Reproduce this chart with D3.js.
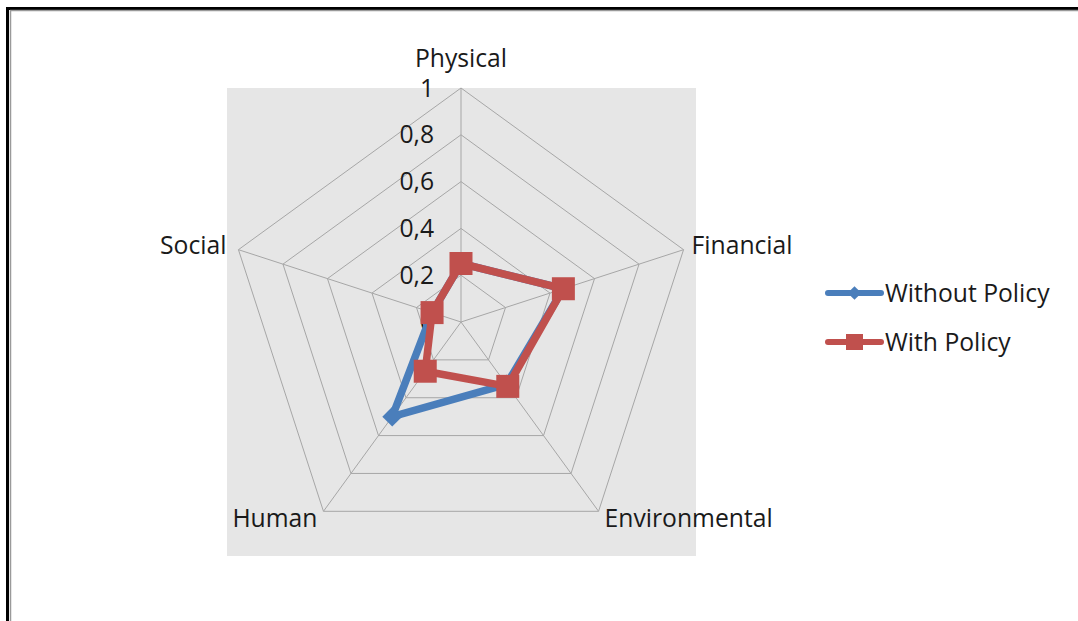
<!DOCTYPE html>
<html>
<head>
<meta charset="utf-8">
<script src="https://cdn.jsdelivr.net/npm/d3@7"></script>
<style>
  html, body { margin: 0; padding: 0; background: #fff; }
  svg { display: block; }
  text { font-family: "Open Sans", "DejaVu Sans", sans-serif; fill: #1a1a1a; }
</style>
</head>
<body>
<svg id="chart" width="1078" height="621"></svg>
<script>
// ---- data ----
const categories = ["Physical", "Financial", "Environmental", "Human", "Social"];
const withoutPolicy = [0.25, 0.46, 0.33, 0.50, 0.13];
const withPolicy    = [0.25, 0.46, 0.34, 0.26, 0.13];
const seriesNames = ["Without Policy", "With Policy"];
const tickValues = [0, 0.2, 0.4, 0.6, 0.8, 1];
const tickLabels = ["0", "0,2", "0,4", "0,6", "0,8", "1"];

// ---- layout ----
const W = 1078, H = 621;
const cx = 461, cy = 322, R = 234;
const FS = 24.7;
const colors = ["#4A7EBB", "#C0504D"];
const svg = d3.select("#chart");

// frame (top and left edges visible)
svg.append("line").attr("x1", 7.5).attr("x2", W).attr("y1", 8.5).attr("y2", 8.5)
  .attr("stroke", "#000").attr("stroke-width", 3);
svg.append("line").attr("x1", 7.5).attr("x2", 7.5).attr("y1", 7).attr("y2", H)
  .attr("stroke", "#000").attr("stroke-width", 3);
svg.append("line").attr("x1", 10).attr("x2", W).attr("y1", 10.5).attr("y2", 10.5)
  .attr("stroke", "#9a9a9a").attr("stroke-width", 1.5);
svg.append("line").attr("x1", 10.5).attr("x2", 10.5).attr("y1", 10).attr("y2", H)
  .attr("stroke", "#9a9a9a").attr("stroke-width", 1.5);

// plot area background
svg.append("rect").attr("x", cx - R).attr("y", cy - R)
  .attr("width", 2 * R + 1).attr("height", 2 * R)
  .attr("fill", "#e6e6e6");

const r = d3.scaleLinear().domain([0, 1]).range([0, R]);
const angle = d3.scaleLinear().domain([0, categories.length]).range([0, 2 * Math.PI]);
const pt = (i, v) => [cx + r(v) * Math.sin(angle(i)), cy - r(v) * Math.cos(angle(i))];

const g = svg.append("g");

// grid pentagons
tickValues.filter(v => v > 0).forEach(v => {
  const pts = categories.map((c, i) => pt(i, v));
  g.append("path")
    .attr("d", d3.line()(pts) + "Z")
    .attr("fill", "none").attr("stroke", "#a6a6a6").attr("stroke-width", 1);
});
// spokes
categories.forEach((c, i) => {
  const [x, y] = pt(i, 1);
  g.append("line").attr("x1", cx).attr("y1", cy).attr("x2", x).attr("y2", y)
    .attr("stroke", "#a6a6a6").attr("stroke-width", 1);
});

// tick labels along the first axis
tickValues.forEach((v, k) => {
  const [x, y] = pt(0, v);
  g.append("text").attr("x", x - 27).attr("y", y).attr("dy", "0.35em")
    .attr("text-anchor", "end").attr("font-size", FS).text(tickLabels[k]);
});

// category labels
const labelCfg = [
  { dx: 0, dy: -30, anchor: "middle" },
  { dx: 8, dy: -4, anchor: "start" },
  { dx: 6, dy: 7, anchor: "start" },
  { dx: -6, dy: 7, anchor: "end" },
  { dx: -12, dy: -4, anchor: "end" }
];
categories.forEach((c, i) => {
  const [x, y] = pt(i, 1);
  g.append("text").attr("x", x + labelCfg[i].dx).attr("y", y + labelCfg[i].dy)
    .attr("dy", "0.35em").attr("text-anchor", labelCfg[i].anchor)
    .attr("font-size", FS).text(c);
});

// series
const series = [withoutPolicy, withPolicy];
const diamond = d3.symbol().type(d3.symbolDiamond2);
series.forEach((vals, s) => {
  const pts = vals.map((v, i) => pt(i, v));
  g.append("path").attr("d", d3.line()(pts) + "Z")
    .attr("fill", "none").attr("stroke", colors[s]).attr("stroke-width", 7.5)
    .attr("stroke-linejoin", "round");
  pts.forEach(([x, y]) => {
    if (s === 0) {
      g.append("path").attr("d", diamond.size(250)())
        .attr("transform", `translate(${x},${y})`)
        .attr("fill", colors[s]);
    } else {
      g.append("rect").attr("x", x - 11.5).attr("y", y - 11.5)
        .attr("width", 23).attr("height", 23).attr("fill", colors[s]);
    }
  });
});

// legend
const legY = [293, 342];
seriesNames.forEach((name, s) => {
  const lg = svg.append("g");
  lg.append("line").attr("x1", 828).attr("x2", 881).attr("y1", legY[s]).attr("y2", legY[s])
    .attr("stroke", colors[s]).attr("stroke-width", 6).attr("stroke-linecap", "round");
  if (s === 0) {
    lg.append("path").attr("d", diamond.size(120)())
      .attr("transform", `translate(854.5,${legY[s]})`).attr("fill", colors[s]);
  } else {
    lg.append("rect").attr("x", 846).attr("y", legY[s] - 8).attr("width", 17).attr("height", 16)
      .attr("fill", colors[s]);
  }
  lg.append("text").attr("x", 885).attr("y", legY[s]).attr("dy", "0.35em")
    .attr("font-size", FS).text(name);
});
</script>
</body>
</html>
